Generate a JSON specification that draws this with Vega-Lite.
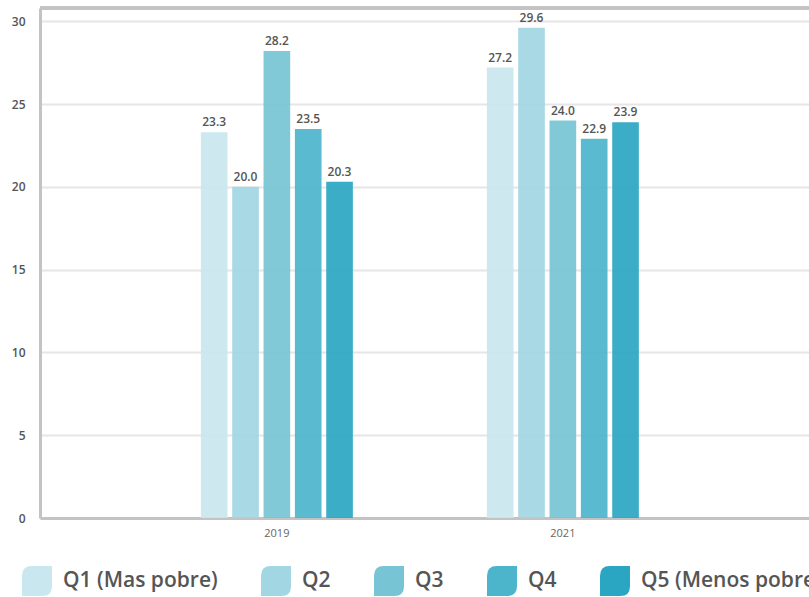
{
  "$schema": "https://vega.github.io/schema/vega-lite/v6.json",
  "width": 769,
  "height": 510,
  "autosize": {"type": "none"},
  "padding": {"left": 40, "top": 8, "right": 0, "bottom": 79},
  "background": "white",
  "config": {
    "view": {"stroke": null},
    "font": "Open Sans"
  },
  "data": {
    "values": [
      {"anio": "2019", "quintil": "Q1 (Mas pobre)", "valor": 23.3},
      {"anio": "2019", "quintil": "Q2", "valor": 20.0},
      {"anio": "2019", "quintil": "Q3", "valor": 28.2},
      {"anio": "2019", "quintil": "Q4", "valor": 23.5},
      {"anio": "2019", "quintil": "Q5 (Menos pobre)", "valor": 20.3},
      {"anio": "2021", "quintil": "Q1 (Mas pobre)", "valor": 27.2},
      {"anio": "2021", "quintil": "Q2", "valor": 29.6},
      {"anio": "2021", "quintil": "Q3", "valor": 24.0},
      {"anio": "2021", "quintil": "Q4", "valor": 22.9},
      {"anio": "2021", "quintil": "Q5 (Menos pobre)", "valor": 23.9}
    ]
  },
  "layer": [
    {
      "mark": {"type": "bar", "opacity": 0.92},
      "encoding": {
        "x": {
          "field": "anio", "type": "nominal",
          "scale": {"paddingInner": 0.4685, "paddingOuter": 0.5787, "align": 0.486},
          "axis": {
            "title": null, "labelAngle": 0, "labelFontSize": 11, "labelColor": "#666666",
            "labelFont": "Open Sans", "tickSize": 0, "labelPadding": 9,
            "domainColor": "#c3c3c3", "domainWidth": 3, "grid": false
          }
        },
        "xOffset": {
          "field": "quintil", "type": "nominal",
          "scale": {"paddingInner": 0.15, "paddingOuter": 0}
        },
        "y": {
          "field": "valor", "type": "quantitative",
          "scale": {"domain": [0, 30.8], "nice": false},
          "axis": {
            "title": null, "values": [0, 5, 10, 15, 20, 25, 30],
            "labelFontSize": 12, "labelColor": "#555555", "labelFont": "Open Sans", "labelFontWeight": 600,
            "tickSize": 0, "labelPadding": 15,
            "domainColor": "#c3c3c3", "domainWidth": 3,
            "gridColor": "#e6e6e6", "gridWidth": 2
          }
        },
        "color": {
          "field": "quintil", "type": "nominal",
          "scale": {
            "domain": ["Q1 (Mas pobre)", "Q2", "Q3", "Q4", "Q5 (Menos pobre)"],
            "range": ["#c9e7ee", "#a1d6e2", "#76c4d4", "#4cb4cb", "#2aa6c2"]
          },
          "legend": {
            "title": null, "orient": "none", "direction": "horizontal",
            "legendX": -18, "legendY": 558,
            "symbolType": "M -1 1 L -1 -0.35 Q -1 -1 -0.35 -1 L 1 -1 L 1 0.35 Q 1 1 0.35 1 Z",
            "symbolSize": 900, "symbolStrokeWidth": 0, "symbolOpacity": 1,
            "labelFontSize": 21, "labelFont": "Open Sans", "labelFontWeight": 600,
            "labelColor": "#555555", "labelOffset": 11, "columnPadding": 43,
            "labelLimit": 400
          }
        }
      }
    },
    {
      "mark": {"type": "text", "baseline": "bottom", "dy": -3, "fontSize": 12, "fontWeight": 600, "color": "#555555", "font": "Open Sans"},
      "encoding": {
        "x": {"field": "anio", "type": "nominal"},
        "xOffset": {"field": "quintil", "type": "nominal"},
        "y": {"field": "valor", "type": "quantitative"},
        "text": {"field": "valor", "type": "quantitative", "format": ".1f"}
      }
    },
    {
      "mark": {"type": "rule", "color": "#c3c3c3", "strokeWidth": 3},
      "encoding": {"y": {"datum": 30.8}}
    }
  ]
}
